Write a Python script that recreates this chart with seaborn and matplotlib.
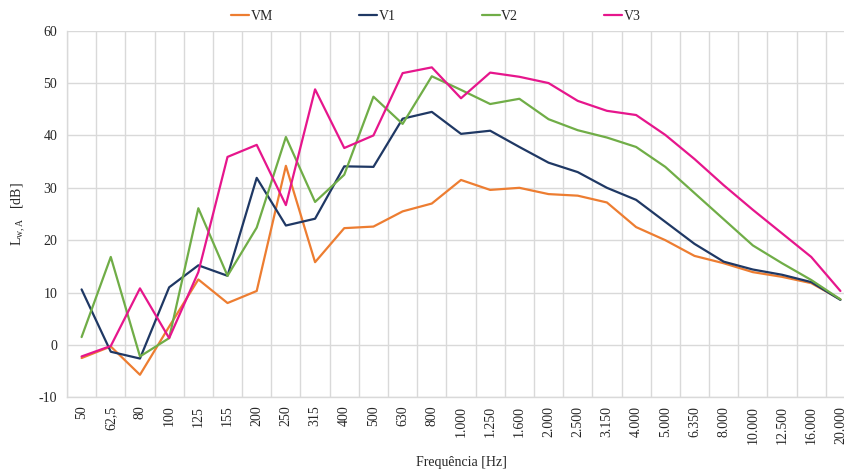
import numpy as np
import pandas as pd
import matplotlib
matplotlib.use("Agg")
import matplotlib.pyplot as plt
import seaborn as sns

freqs = ["50", "62,5", "80", "100", "125", "155", "200", "250", "315", "400", "500", "630", "800",
         "1.000", "1.250", "1.600", "2.000", "2.500", "3.150", "4.000", "5.000", "6.350", "8.000",
         "10.000", "12.500", "16.000", "20.000"]
vm = [-2.5, -0.3, -5.7, 3.5, 12.5, 8.0, 10.3, 34.2, 15.8, 22.3, 22.6, 25.5, 27.0,
      31.5, 29.6, 30.0, 28.8, 28.5, 27.2, 22.5, 20.0, 17.0, 15.6, 13.9, 13.0, 11.8, 8.7]
v1 = [10.6, -1.3, -2.6, 11.0, 15.2, 13.2, 31.9, 22.8, 24.1, 34.1, 34.0, 43.2, 44.5,
      40.3, 40.9, 37.8, 34.8, 33.0, 30.0, 27.7, 23.5, 19.3, 15.9, 14.4, 13.4, 12.0, 8.6]
v2 = [1.5, 16.8, -2.2, 1.3, 26.1, 13.2, 22.4, 39.7, 27.3, 32.5, 47.4, 42.2, 51.3,
      48.7, 46.0, 47.0, 43.1, 41.0, 39.6, 37.8, 34.0, 29.0, 24.0, 19.0, 15.6, 12.4, 8.7]
v3 = [-2.2, -0.2, 10.8, 1.3, 13.9, 35.9, 38.2, 26.7, 48.8, 37.6, 40.0, 51.9, 53.0,
      47.1, 52.0, 51.2, 50.0, 46.6, 44.7, 43.9, 40.1, 35.5, 30.5, 25.8, 21.3, 16.8, 10.3]
series_names = ["VM", "V1", "V2", "V3"]
colors = ["#ED7D31", "#1F3864", "#70AD47", "#E6168C"]

rows = []
for name, vals in zip(series_names, [vm, v1, v2, v3]):
    for i, v in enumerate(vals):
        rows.append({"idx": i, "val": v, "serie": name})
df = pd.DataFrame(rows)

sns.set_theme(style="white")
plt.rcParams["font.family"] = ["Liberation Serif", "DejaVu Serif"]
plt.rcParams["mathtext.fontset"] = "custom"
plt.rcParams["mathtext.rm"] = "Liberation Serif"
plt.rcParams["mathtext.it"] = "Liberation Serif:italic"
plt.rcParams["axes.unicode_minus"] = False

fs = 10
fig = plt.figure(figsize=(8.45, 4.72), dpi=100)
ax = fig.add_axes([67/845, 1-397.3/472, (855-67)/845, (397.3-30.7)/472])

sns.lineplot(data=df, x="idx", y="val", hue="serie", palette=colors, hue_order=series_names,
             linewidth=1.6, ax=ax, legend=True)

ax.set_xlim(-0.5, len(freqs) - 0.5)
ax.set_ylim(-10, 60)
ax.set_yticks(np.arange(-10, 61, 10))
ax.set_xticks(np.arange(len(freqs)))
ax.set_xticklabels(freqs, rotation=90, fontsize=fs, color="#262626")
ax.tick_params(axis="y", labelsize=fs, labelcolor="#262626", length=0, pad=7)
ax.tick_params(axis="x", length=0, pad=6)
ax.set_xticks(np.arange(-0.5, len(freqs), 1), minor=True)
ax.tick_params(axis="x", which="minor", length=0)
ax.grid(axis="y", which="major", color="#D9D9D9", linewidth=1.0)
ax.grid(axis="x", which="minor", color="#D9D9D9", linewidth=1.0)
ax.grid(axis="x", which="major", visible=False)
for s in ["top", "right"]:
    ax.spines[s].set_visible(False)
for s in ["left", "bottom"]:
    ax.spines[s].set_color("#D9D9D9")
    ax.spines[s].set_linewidth(1.0)
ax.set_axisbelow(True)

ax.set_xlabel("Frequência [Hz]", fontsize=fs, color="#262626", labelpad=9)
ax.set_ylabel(r"L$_{\mathrm{w,A}}$   [dB]", fontsize=fs, color="#262626", labelpad=8)

ax.get_legend().remove()
handles, labels = ax.get_legend_handles_labels()
fig.legend(handles, labels, loc="center", bbox_to_anchor=(436/845, 1-16/472), ncol=4,
           frameon=False, fontsize=fs, handlelength=1.3, handletextpad=0.1, columnspacing=6.2)

fig.savefig("out.png", dpi=100)
